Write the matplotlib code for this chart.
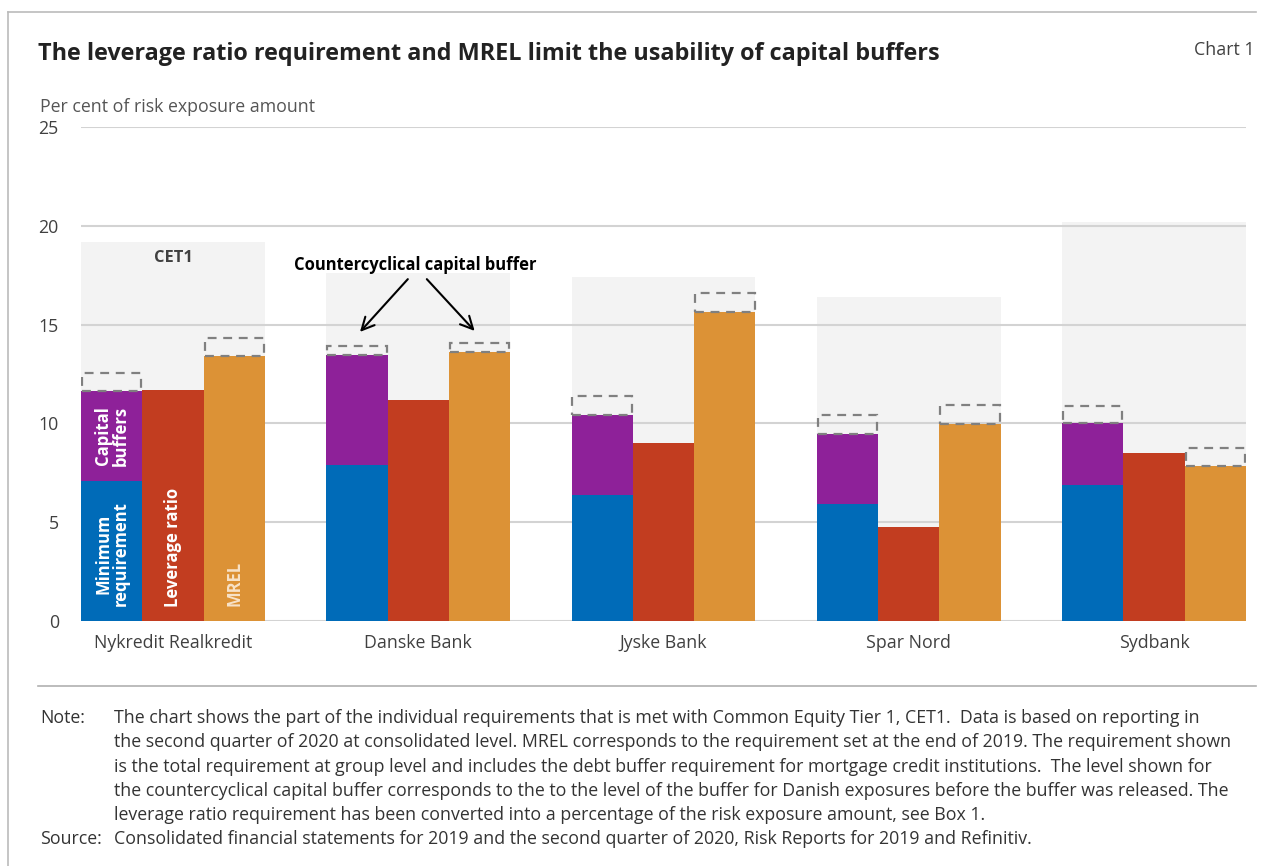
import matplotlib
matplotlib.use("Agg")
import matplotlib.pyplot as plt
from matplotlib.lines import Line2D
import numpy as np

plt.rcParams['font.family'] = ['Open Sans', 'DejaVu Sans']

banks = ["Nykredit Realkredit", "Danske Bank", "Jyske Bank", "Spar Nord", "Sydbank"]
cet1_total = [19.2, 17.6, 17.4, 16.4, 20.2]
min_req = [7.1, 7.9, 6.4, 5.9, 6.9]
cap_buffers = [4.55, 5.55, 4.05, 3.55, 3.1]
ccyb_cap = [0.88, 0.46, 0.96, 1.0, 0.9]
leverage = [11.7, 11.2, 9.0, 4.75, 8.5]
mrel = [13.4, 13.6, 15.65, 9.95, 7.85]
ccyb_mrel = [0.92, 0.46, 0.96, 0.96, 0.92]
yticks = [0, 5, 10, 15, 20, 25]

C_BLUE = "#006bb8"
C_PURPLE = "#8e2199"
C_RED = "#c23d20"
C_ORANGE = "#dc9236"
C_BG = "#f3f3f3"
C_GRID = "#d3d3d3"
C_DASH = "#808080"
C_TXT = "#404040"
FS = 12.8

fig = plt.figure(figsize=(12.74, 8.66), dpi=100)
ax = fig.add_axes([81/1274, 1-621/866, (1246-81)/1274, (621-127)/866])

n = len(banks)
centers = np.arange(n) * 4 + 1.0
x_cap = centers - 1
x_lev = centers
x_mrel = centers + 1

ax.bar(centers, cet1_total, width=3, color=C_BG, zorder=0.2, linewidth=0)

ax.bar(x_cap, min_req, width=1, color=C_BLUE, zorder=2, linewidth=0)
ax.bar(x_cap, cap_buffers, bottom=min_req, width=1, color=C_PURPLE, zorder=2, linewidth=0)
cap_top = np.array(min_req) + np.array(cap_buffers)
ax.bar(x_cap, ccyb_cap, bottom=cap_top, width=0.97, fill=False, edgecolor=C_DASH,
       linestyle=(0, (4, 3)), linewidth=1.6, zorder=3)

ax.bar(x_lev, leverage, width=1, color=C_RED, zorder=2, linewidth=0)

ax.bar(x_mrel, mrel, width=1, color=C_ORANGE, zorder=2, linewidth=0)
ax.bar(x_mrel, ccyb_mrel, bottom=mrel, width=0.97, fill=False, edgecolor=C_DASH,
       linestyle=(0, (4, 3)), linewidth=1.6, zorder=3)

ax.set_xlim(-0.5, centers[-1] + 1.5)
ax.set_ylim(0, 25)
ax.set_yticks(yticks)
ax.set_yticklabels([str(v) for v in yticks], fontsize=FS, color=C_TXT)
ax.set_xticks(centers)
ax.set_xticklabels(banks, fontsize=FS, color=C_TXT)
ax.tick_params(axis='both', length=0)
ax.tick_params(axis='y', pad=16)
ax.tick_params(axis='x', pad=9)
ax.set_axisbelow(True)
ax.yaxis.grid(True, color=C_GRID, linewidth=1.5)
for s in ax.spines.values():
    s.set_visible(False)
ax.set_facecolor('none')

lab_kw = dict(rotation=90, ha='center', va='center', fontsize=12, fontweight='bold',
              color='white', zorder=5, linespacing=0.95)
ax.text(x_cap[0], 3.4, "Minimum\nrequirement", **lab_kw)
ax.text(x_cap[0], min_req[0] + cap_buffers[0] / 2, "Capital\nbuffers", **lab_kw)
ax.text(x_lev[0], 3.7, "Leverage ratio", **lab_kw)
lab_kw2 = dict(lab_kw)
lab_kw2['color'] = '#f8e2c8'
ax.text(x_mrel[0], 1.9, "MREL", **lab_kw2)

ax.text(centers[0], 18.35, "CET1", ha='center', va='center', fontsize=11.8,
        fontweight='bold', color=C_TXT, zorder=5)

ax.text(4.95, 18.0, "Countercyclical capital buffer", ha='center', va='center',
        fontsize=11.9, fontweight='bold', color='black', zorder=6)
arrow_kw = dict(arrowstyle='->,head_length=0.9,head_width=0.45', color='black', lw=1.5,
                shrinkA=0, shrinkB=0)
ax.annotate("", xy=(4.05, 14.63), xytext=(4.83, 17.3), arrowprops=arrow_kw, zorder=6)
ax.annotate("", xy=(5.92, 14.68), xytext=(5.14, 17.3), arrowprops=arrow_kw, zorder=6)

fig.text(38/1274, 1-54/866, "The leverage ratio requirement and MREL limit the usability of capital buffers",
         fontsize=16.8, fontweight='bold', color='#222222', ha='left', va='center')
fig.text(1255/1274, 1-50/866, "Chart 1", fontsize=FS, color='#404040', ha='right', va='center')
fig.text(40/1274, 1-107/866, "Per cent of risk exposure amount", fontsize=FS, color='#555555',
         ha='left', va='center')

fig.add_artist(Line2D([8/1274, 8/1274], [0, 1-12/866], transform=fig.transFigure, color='#bbbbbb', lw=1.2))
fig.add_artist(Line2D([8/1274, 1256/1274], [1-12/866, 1-12/866], transform=fig.transFigure, color='#bbbbbb', lw=1.2))
fig.add_artist(Line2D([38/1274, 1256/1274], [1-686/866, 1-686/866], transform=fig.transFigure, color='#b0b0b0', lw=1.2))

note_lines = [
    "The chart shows the part of the individual requirements that is met with Common Equity Tier 1, CET1.  Data is based on reporting in",
    "the second quarter of 2020 at consolidated level. MREL corresponds to the requirement set at the end of 2019. The requirement shown",
    "is the total requirement at group level and includes the debt buffer requirement for mortgage credit institutions.  The level shown for",
    "the countercyclical capital buffer corresponds to the to the level of the buffer for Danish exposures before the buffer was released. The",
    "leverage ratio requirement has been converted into a percentage of the risk exposure amount, see Box 1.",
]
source_line = "Consolidated financial statements for 2019 and the second quarter of 2020, Risk Reports for 2019 and Refinitiv."
ys = [718, 742, 767, 791, 815]
fig.text(40/1274, 1-718/866, "Note:", fontsize=FS, color='#333333', ha='left', va='center')
for yy, line in zip(ys, note_lines):
    fig.text(114/1274, 1-yy/866, line, fontsize=FS, color='#333333', ha='left', va='center')
fig.text(40/1274, 1-839/866, "Source:", fontsize=FS, color='#333333', ha='left', va='center')
fig.text(114/1274, 1-839/866, source_line, fontsize=FS, color='#333333', ha='left', va='center')

fig.savefig("out.png", dpi=100)
